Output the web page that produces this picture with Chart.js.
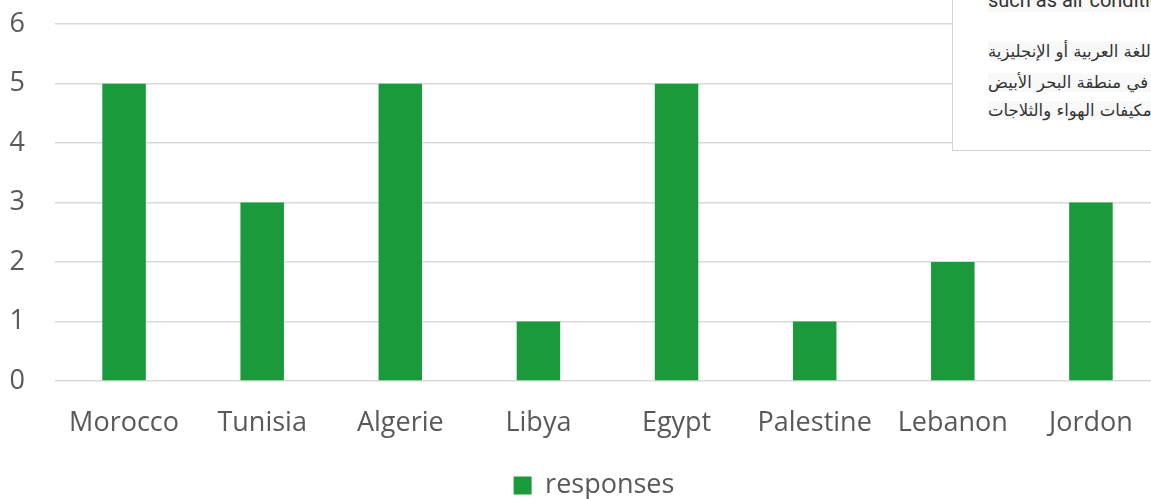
<!DOCTYPE html>
<html>
<head>
<meta charset="utf-8">
<script src="https://cdn.jsdelivr.net/npm/chart.js@4/dist/chart.umd.min.js"></script>
<style>
  html, body { margin: 0; padding: 0; background: #fff; overflow: hidden; width: 1151px; height: 499px; }
  #wrap { position: absolute; left: 0; top: -22px; width: 1166px; height: 531px; }
  #popup {
    position: absolute; left: 952px; top: 0; width: 260px; height: 150px;
    background: #fff; border-left: 1px solid #d4d4d4; border-bottom: 1px solid #d4d4d4;
    overflow: hidden; font-family: 'DejaVu Sans', sans-serif; color: #333;
  }
  #popup .line { position: absolute; left: 35px; white-space: nowrap; background: #f8f8f8; }
</style>
</head>
<body>
<div id="wrap"><canvas id="responses_chart"></canvas></div>
<div id="popup">
  <div class="line" style="top:-12px; font-family: Roboto, sans-serif; font-size:20px;">such as air conditioners and refrigerators</div>
  <div class="line" style="top:42px; font-size:16.5px;">مكتوبة باللغة العربية أو الإنجليزية</div>
  <div class="line" style="top:73px; font-size:16.5px;">المنتشرة في منطقة البحر الأبيض</div>
  <div class="line" style="top:101px; font-size:16.5px;">مثل مكيفات الهواء والثلاجات</div>
</div>
<script>
// responses per country
const countries = ['Morocco', 'Tunisia', 'Algerie', 'Libya', 'Egypt', 'Palestine', 'Lebanon', 'Jordon'];
const responses = [5, 3, 5, 1, 5, 1, 2, 3];
const yMin = 0;
const yMax = 6;
const yStep = 1;

// the original legend sits a little right of the canvas centre
const legendShift = {
  id: 'legendShift',
  afterLayout: function (chart) {
    chart.legend.left += 14;
    chart.legend.right += 14;
  }
};

const ctx = document.getElementById('responses_chart').getContext('2d');
const myChart = new Chart(ctx, {
    type: 'bar',
    data: {
        labels: countries,
        datasets: [{
            label: 'responses',
            data: responses,
            backgroundColor: 'rgba(27, 154, 59, 1)',
            borderWidth: 0,
            barPercentage: 0.315,
            categoryPercentage: 1
        }]
    },
    options: {
        responsive: true,
        maintainAspectRatio: false,
        animation: false,
        layout: {
            padding: { top: 0, right: 6, left: 0, bottom: 0 }
        },
        scales: {
          x: {
            grid: { display: false },
            border: { display: false },
            ticks: {
              color: '#595959',
              padding: 18,
              font: { family: 'Open Sans', size: 27 }
            },
            afterFit: function (scale) { scale.height = 91; }
          },
          y: {
            min: yMin,
            max: yMax,
            ticks: {
              stepSize: yStep,
              color: '#595959',
              padding: 30,
              font: { family: 'Open Sans', size: 27 }
            },
            grid: { color: '#d9d9d9', lineWidth: 1.5, drawTicks: false },
            border: { display: false },
            afterFit: function (scale) { scale.width = 55; }
          }
        },
        plugins: {
          tooltip: { enabled: false },
          legend: {
            display: true,
            position: 'bottom',
            labels: {
              color: '#595959',
              boxWidth: 18,
              boxHeight: 18,
              padding: 0,
              font: { family: 'Open Sans', size: 27 }
            }
          }
        }
      },
    plugins: [legendShift]
    });
</script>
</body>
</html>
